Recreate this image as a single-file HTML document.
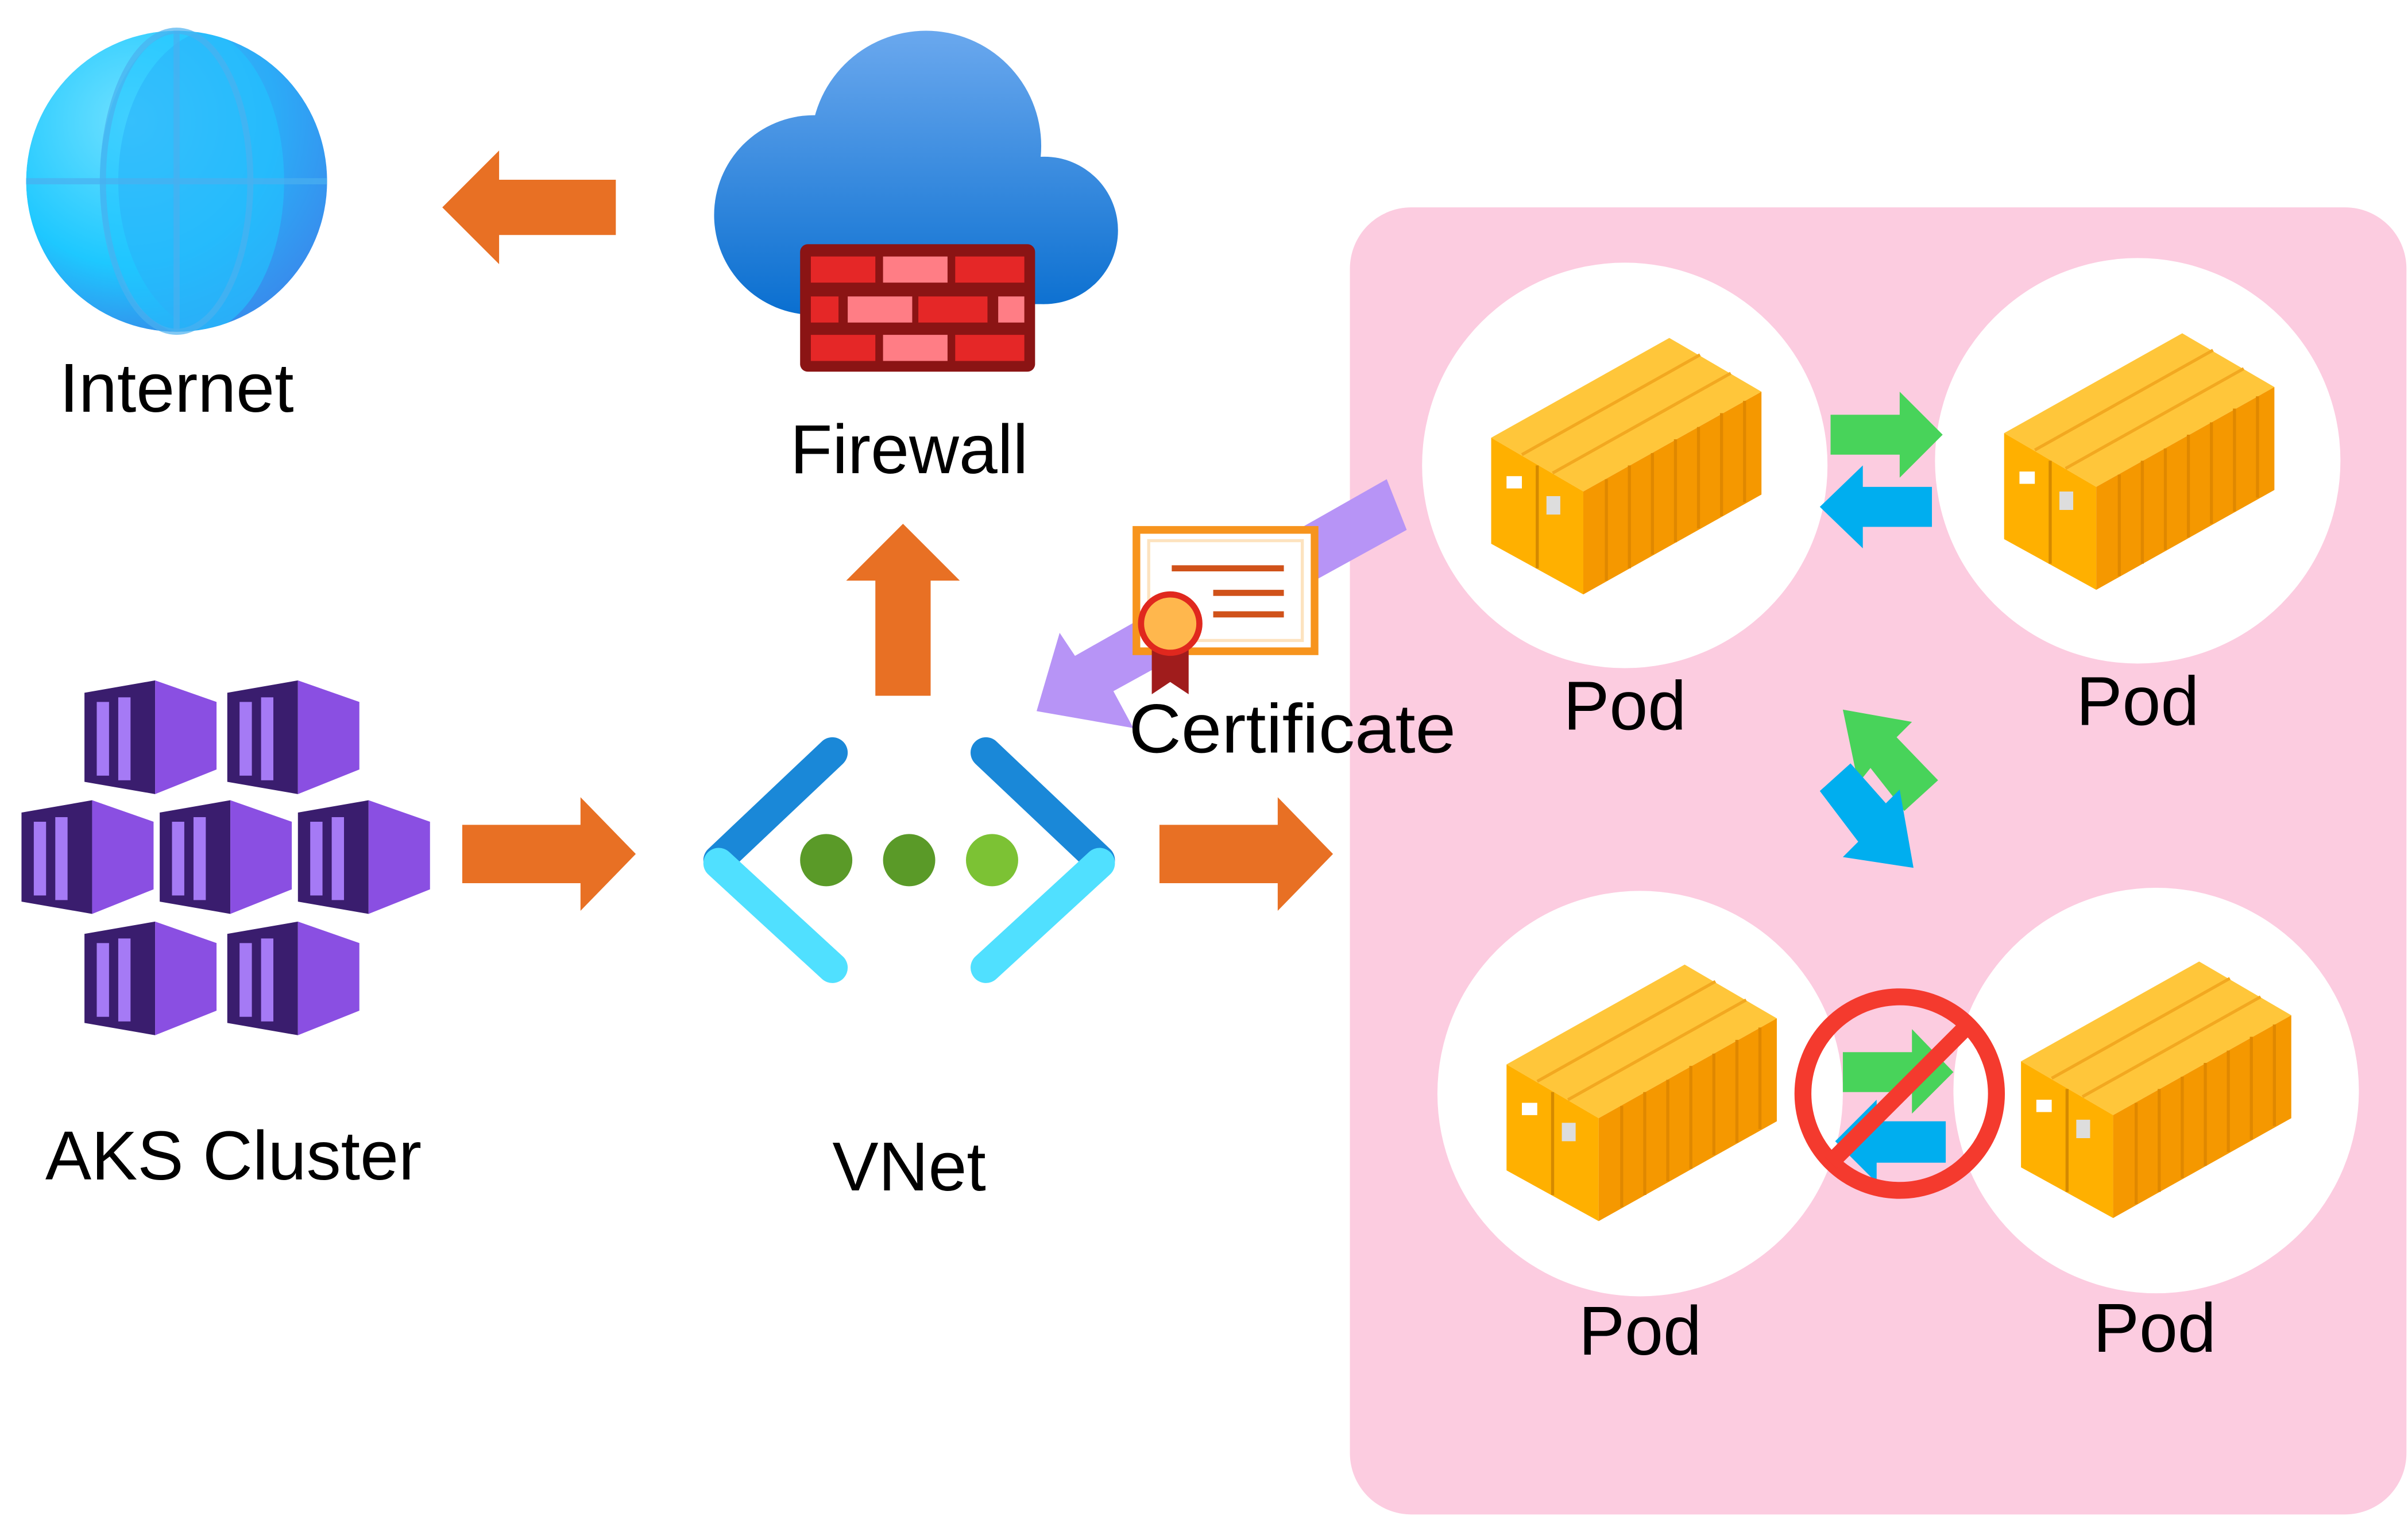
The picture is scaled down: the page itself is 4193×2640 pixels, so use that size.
<!DOCTYPE html>
<html><head><meta charset="utf-8"><style>
html,body{margin:0;padding:0;background:#fff;}
svg{display:block}
text{font-family:"Liberation Sans",sans-serif;fill:#000}
</style></head><body>
<svg width="4193" height="2640" viewBox="0 0 1568 987" preserveAspectRatio="none" xmlns="http://www.w3.org/2000/svg">
<defs>
<radialGradient id="gl" cx="0.35" cy="0.3" r="0.8"><stop offset="0" stop-color="#6fe0ff"/><stop offset="0.6" stop-color="#1ec8ff"/><stop offset="1" stop-color="#3a7fe6"/></radialGradient>
<linearGradient id="cl" gradientUnits="userSpaceOnUse" x1="0" y1="20" x2="0" y2="205"><stop offset="0" stop-color="#6aa8ee"/><stop offset="1" stop-color="#0a6fd0"/></linearGradient>
<clipPath id="gc"><circle cx="115" cy="118" r="98"/></clipPath>
<g id="cont">
<polygon points="0,65 116,0 176,35 60,100" fill="#ffc63a"/>
<polygon points="0,65 60,100 60,167 0,134" fill="#ffb000"/>
<polygon points="60,100 176,35 176,102 60,167" fill="#f59800"/>
<g stroke="#e08800" stroke-width="2">
<line x1="75" y1="92" x2="75" y2="158"/><line x1="90" y1="83" x2="90" y2="150"/><line x1="105" y1="75" x2="105" y2="141"/><line x1="120" y1="66" x2="120" y2="133"/><line x1="135" y1="58" x2="135" y2="124"/><line x1="150" y1="49" x2="150" y2="116"/><line x1="165" y1="41" x2="165" y2="107"/>
</g>
<g stroke="#f2a820" stroke-width="2">
<line x1="20" y1="76" x2="136" y2="11"/><line x1="40" y1="88" x2="156" y2="23"/>
</g>
<line x1="30" y1="83" x2="30" y2="150" stroke="#d58a00" stroke-width="2"/>
<rect x="10" y="90" width="10" height="8" fill="#fff"/><rect x="36" y="103" width="9" height="12" fill="#ddd"/>
</g>
<g id="cube">
<polygon points="0,8 46,0 46,74 0,66" fill="#3a1d6e"/>
<rect x="8" y="14" width="8" height="48" fill="#a57af5"/><rect x="22" y="11" width="8" height="54" fill="#a57af5"/>
<polygon points="46,0 86,14 86,58 46,74" fill="#8a4fe2"/>
</g>
</defs>

<!-- Globe -->
<g clip-path="url(#gc)">
<circle cx="115" cy="118" r="98" fill="url(#gl)"/>
<ellipse cx="145" cy="118" rx="68" ry="100" fill="#3a8ff0" opacity="0.5"/>
<ellipse cx="125" cy="118" rx="60" ry="100" fill="#22c4ff" opacity="0.6"/>
</g>
<ellipse cx="115" cy="118" rx="48" ry="98" fill="none" stroke="#4ab0f0" stroke-width="4" opacity="0.7"/>
<line x1="17" y1="118" x2="213" y2="118" stroke="#4ab0f0" stroke-width="4" opacity="0.7"/>
<line x1="115" y1="20" x2="115" y2="216" stroke="#4ab0f0" stroke-width="4" opacity="0.7"/>
<text x="115" y="268" font-size="45" text-anchor="middle">Internet</text>

<!-- arrow left -->
<polygon points="288,135 325,98 325,117 401,117 401,153 325,153 325,172" fill="#e87024"/>

<!-- Cloud -->
<g fill="url(#cl)">
<circle cx="603" cy="95" r="75"/><circle cx="530" cy="140" r="65"/><circle cx="680" cy="150" r="48"/>
<rect x="530" y="120" width="150" height="78"/>
</g>
<rect x="521" y="159" width="153" height="83" rx="5" fill="#8b1414"/>
<g fill="#e52727">
<rect x="528" y="167" width="42" height="17"/><rect x="622" y="167" width="45" height="17"/>
<rect x="528" y="193" width="18" height="17"/><rect x="598" y="193" width="45" height="17"/>
<rect x="528" y="218" width="42" height="17"/><rect x="622" y="218" width="45" height="17"/>
</g>
<g fill="#ff7d85">
<rect x="575" y="167" width="42" height="17"/><rect x="552" y="193" width="42" height="17"/><rect x="650" y="193" width="17" height="17"/><rect x="575" y="218" width="42" height="17"/>
</g>
<text x="592" y="308" font-size="45" text-anchor="middle">Firewall</text>

<!-- arrow up -->
<polygon points="588,341 625,378 606,378 606,453 570,453 570,378 551,378" fill="#e87024"/>

<!-- AKS cubes -->
<use href="#cube" x="55" y="443"/><use href="#cube" x="148" y="443"/>
<use href="#cube" x="14" y="521"/><use href="#cube" x="104" y="521"/><use href="#cube" x="194" y="521"/>
<use href="#cube" x="55" y="600"/><use href="#cube" x="148" y="600"/>
<text x="152" y="768" font-size="45" text-anchor="middle">AKS Cluster</text>

<!-- arrow right 1 -->
<polygon points="301,537 378,537 378,519 414,556 378,593 378,575 301,575" fill="#e87024"/>

<!-- VNet -->
<g stroke-linecap="round" stroke-width="20">
<line x1="468" y1="560" x2="542" y2="490" stroke="#1a88d8"/>
<line x1="468" y1="562" x2="542" y2="630" stroke="#50e0ff"/>
<line x1="716" y1="560" x2="642" y2="490" stroke="#1a88d8"/>
<line x1="716" y1="562" x2="642" y2="630" stroke="#50e0ff"/>
</g>
<circle cx="538" cy="560" r="17" fill="#5a9a28"/><circle cx="592" cy="560" r="17" fill="#5a9a28"/><circle cx="646" cy="560" r="17" fill="#7cc234"/>
<text x="592" y="775" font-size="45" text-anchor="middle">VNet</text>

<!-- arrow right 2 -->
<polygon points="755,537 832,537 832,519 868,556 832,593 832,575 755,575" fill="#e87024"/>

<!-- pink region -->
<rect x="879" y="135" width="688" height="851" rx="40" fill="#fccce0"/>

<!-- pods -->
<circle cx="1058" cy="303" r="132" fill="#fff"/>
<circle cx="1392" cy="300" r="132" fill="#fff"/>
<circle cx="1068" cy="712" r="132" fill="#fff"/>
<circle cx="1404" cy="710" r="132" fill="#fff"/>
<use href="#cont" x="971" y="220"/>
<use href="#cont" x="1305" y="217"/>
<use href="#cont" x="981" y="628"/>
<use href="#cont" x="1316" y="626"/>
<g font-size="45" text-anchor="middle">
<text x="1058" y="475">Pod</text><text x="1392" y="472">Pod</text><text x="1068" y="882">Pod</text><text x="1403" y="880">Pod</text>
</g>

<!-- arrows between top pods -->
<polygon points="1192,270 1237,270 1237,255 1265,283 1237,311 1237,296 1192,296" fill="#48d35a"/>
<polygon points="1258,317 1213,317 1213,303 1185,330 1213,357 1213,343 1258,343" fill="#00aeef"/>

<!-- diagonal arrows -->
<polygon points="1262,508 1240,528 1218,500 1210,510 1200,462 1245,470 1235,480" fill="#48d35a"/>
<polygon points="1185,515 1205,497 1228,523 1237,514 1246,565 1200,558 1210,548" fill="#00aeef"/>

<!-- forbidden -->
<polygon points="1200,685 1245,685 1245,670 1272,698 1245,725 1245,711 1200,711" fill="#48d35a"/>
<polygon points="1267,730 1222,730 1222,716 1195,743 1222,770 1222,757 1267,757" fill="#00aeef"/>
<circle cx="1237" cy="712" r="63" fill="none" stroke="#f43a2e" stroke-width="11"/>
<line x1="1282" y1="667" x2="1192" y2="757" stroke="#f43a2e" stroke-width="11"/>

<!-- purple arrow -->
<polygon points="903,312 916,345 725,450 738,474 675,463 690,412 700,427" fill="#b794f6"/>

<!-- certificate -->
<rect x="740" y="345" width="116" height="79" fill="#fff" stroke="#f7941d" stroke-width="5"/>
<rect x="748" y="352" width="100" height="65" fill="none" stroke="#fde3bf" stroke-width="2"/>
<g stroke="#d0521a" stroke-width="4"><line x1="763" y1="370" x2="836" y2="370"/><line x1="790" y1="386" x2="836" y2="386"/><line x1="790" y1="400" x2="836" y2="400"/></g>
<polygon points="750,420 774,420 774,452 762,444 750,452" fill="#a01c1c"/>
<circle cx="762" cy="406" r="19" fill="#ffb74d" stroke="#e0281e" stroke-width="4"/>
<text x="735" y="490" font-size="45" textLength="213" lengthAdjust="spacingAndGlyphs">Certificate</text>
</svg>
</body></html>
